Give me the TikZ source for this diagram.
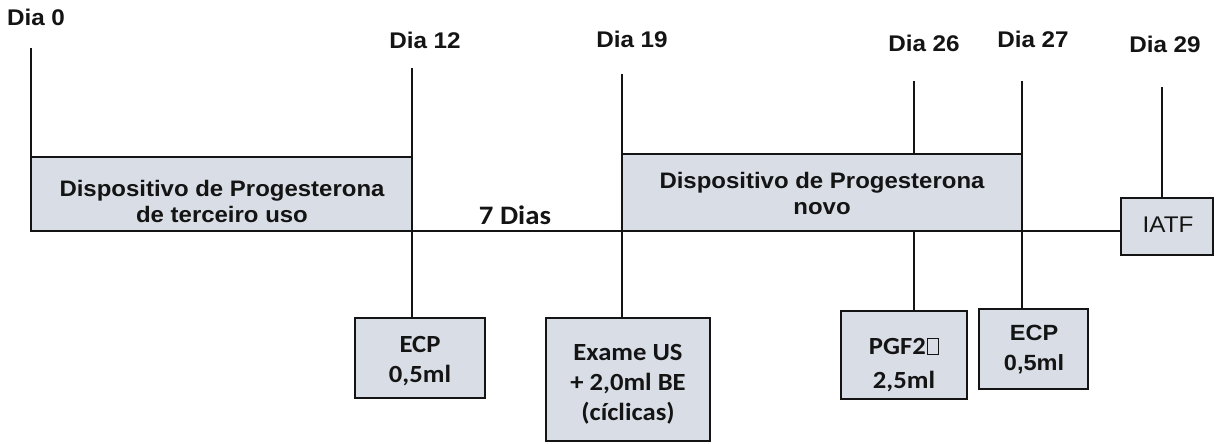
\documentclass[tikz,border=0pt]{standalone}
\usepackage{fontspec}
\newfontfamily\arialf[FakeStretch=1.07]{Liberation Sans}
\newfontfamily\calf[FakeStretch=1.08]{Carlito}
\definecolor{boxfill}{RGB}{217,222,230}
\definecolor{inkc}{RGB}{20,20,20}
\newcommand\missbox{{\setlength\fboxsep{0pt}\setlength\fboxrule{0.5pt}\hspace{0.06em}\fbox{\rule{0pt}{0.62em}\hspace{0.42em}}}}
\begin{document}
\begin{tikzpicture}[x=0.75pt,y=-0.75pt,
  ln/.style={draw=inkc, line width=1.5pt},
  pbox/.style={draw=inkc, line width=1.6pt, fill=boxfill, inner sep=0pt},
  ebox/.style={draw=inkc, line width=2.2pt, fill=boxfill, inner sep=0pt},
  dia/.style={font=\arialf\bfseries\fontsize{17}{20}\selectfont, anchor=base, inner sep=0pt, text=inkc},
  ptext/.style={font=\arialf\bfseries\fontsize{16.8}{19.5}\selectfont, align=center, anchor=north, inner sep=0pt, text=inkc},
  ctext/.style={font=\calf\bfseries\fontsize{18.5}{22.5}\selectfont, align=center, anchor=north, inner sep=0pt, text=inkc},
  atext/.style={font=\arialf\bfseries\fontsize{16.5}{22.5}\selectfont, align=center, anchor=north, inner sep=0pt, text=inkc},
  ]
\useasboundingbox (0,0) rectangle (1216,443);
% boxes
\node[pbox, minimum width=285.75pt, minimum height=55.5pt] (b1) at (221.5,194) {};
\node[pbox, minimum width=300pt, minimum height=57.75pt] (b2) at (822,192.5) {};
\node[ebox, minimum width=97.5pt, minimum height=60pt] (ecp1) at (420,358) {};
\node[ebox, minimum width=123pt, minimum height=92.25pt] (exame) at (628,379.5) {};
\node[ebox, minimum width=94.5pt, minimum height=66pt] (pgf) at (904,355) {};
\node[ebox, minimum width=81.75pt, minimum height=60pt] (ecp2) at (1033.5,349) {};
\node[pbox, line width=2pt, minimum width=69pt, minimum height=42.75pt] (iatf) at (1167,226.5) {};
% line tops
\coordinate (d0) at (31,48);
\coordinate (t0) at (31,231);
\coordinate (d12) at (412,68);
\coordinate (d19) at (622,74);
\coordinate (d26) at (914,81);
\coordinate (d27) at (1022,81);
\coordinate (d29) at (1162,87);
% timeline and ticks
\draw[ln] (t0) -- (t0 -| iatf.west);
\draw[ln] (d0) -- (t0);
\draw[ln] (d12) -- (d12 |- ecp1.north);
\draw[ln] (d19) -- (d19 |- exame.north);
\draw[ln] (d26) -- (d26 |- b2.north);
\draw[ln] (d26 |- b2.south) -- (d26 |- pgf.north);
\draw[ln] (d27) -- (d27 |- ecp2.north);
\draw[ln] (d29) -- (d29 |- iatf.north);
% day labels
\node[dia] (l0) at (36,25) {Dia 0};
\node[dia] (l12) at (425,48) {Dia 12};
\node[dia] (l19) at (632,47) {Dia 19};
\node[dia] (l26) at (924,51) {Dia 26};
\node[dia] (l27) at (1033,47) {Dia 27};
\node[dia] (l29) at (1165,52) {Dia 29};
% texts
\node[ptext] (b1t) at (222,180) {Dispositivo de Progesterona\\de terceiro uso};
\node[ptext] (b2t) at (822,172) {Dispositivo de Progesterona\\novo};
\node[ctext, font=\calf\bfseries\fontsize{20}{24}\selectfont, anchor=base] (seven) at (515,224) {7 Dias};
\node[ctext] (ecp1t) at (420,336) {ECP\\0,5ml};
\node[ctext] (exat) at (628,344) {Exame US\\+ 2,0ml BE\\(cíclicas)};
\node[ctext, font=\calf\bfseries\fontsize{18.5}{25.5}\selectfont] (pgft) at (904,338) {PGF2\missbox\\2,5ml};
\node[atext] (ecp2t) at (1034,325) {ECP\\0,5ml};
\node[font=\arialf\fontsize{17}{20}\selectfont, anchor=base, inner sep=0pt, text=inkc] (iatft) at (1168,232) {IATF};
\end{tikzpicture}
\end{document}
